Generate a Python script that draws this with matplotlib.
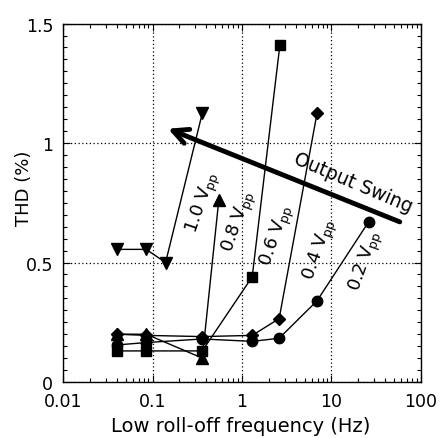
import numpy as np
import matplotlib
matplotlib.use("Agg")
import matplotlib.pyplot as plt
from matplotlib.ticker import FixedLocator, FixedFormatter, LogLocator, MultipleLocator, NullFormatter

# ---------------- Data ----------------
# 1.0 Vpp (triangle down)
f_10 = [0.04, 0.085, 0.14, 0.36]
thd_10 = [0.555, 0.555, 0.50, 1.125]

# 0.8 Vpp (triangle up)
f_08 = [0.04, 0.085, 0.36, 0.55]
thd_08 = [0.20, 0.20, 0.10, 0.76]

# 0.6 Vpp (square)
f_06 = [0.04, 0.085, 0.36, 1.3, 2.65]
thd_06 = [0.13, 0.13, 0.13, 0.44, 1.41]

# 0.4 Vpp (diamond)
f_04 = [0.04, 0.085, 0.36, 1.3, 2.6, 6.9]
thd_04 = [0.20, 0.195, 0.19, 0.195, 0.265, 1.125]

# 0.2 Vpp (circle)
f_02 = [0.04, 0.085, 0.36, 1.3, 2.6, 6.9, 26]
thd_02 = [0.155, 0.165, 0.18, 0.17, 0.183, 0.34, 0.67]

x_ticks = [0.01, 0.1, 1, 10, 100]
x_ticklabels = ["0.01", "0.1", "1", "10", "100"]
y_ticks = [0, 0.5, 1, 1.5]
y_ticklabels = ["0", "0.5", "1", "1.5"]

# ---------------- Figure ----------------
fig = plt.figure(figsize=(4.41, 4.39), dpi=100)
ax = fig.add_axes([0.1429, 0.1276, 0.8117, 0.8164])

ax.plot(f_10, thd_10, "k-", lw=1, marker="v", ms=8.5)
ax.plot(f_08, thd_08, "k-", lw=1, marker="^", ms=8.5)
ax.plot(f_06, thd_06, "k-", lw=1, marker="s", ms=6.5)
ax.plot(f_04, thd_04, "k-", lw=1, marker="D", ms=6)
ax.plot(f_02, thd_02, "k-", lw=1, marker="o", ms=7.5)

ax.set_xscale("log")
ax.set_xlim(0.01, 100)
ax.set_ylim(0, 1.5)

ax.xaxis.set_major_locator(FixedLocator(x_ticks))
ax.xaxis.set_major_formatter(FixedFormatter(x_ticklabels))
ax.xaxis.set_minor_locator(LogLocator(base=10, subs=np.arange(2, 10)))
ax.xaxis.set_minor_formatter(NullFormatter())
ax.yaxis.set_major_locator(FixedLocator(y_ticks))
ax.yaxis.set_major_formatter(FixedFormatter(y_ticklabels))
ax.yaxis.set_minor_locator(MultipleLocator(0.05))

ax.tick_params(which="both", direction="in", top=True, right=True, width=0.8)
ax.tick_params(which="major", length=5, labelsize=12.5)
ax.tick_params(which="minor", length=3)
ax.tick_params(axis="y", pad=7)
ax.tick_params(axis="x", pad=7)

# the reference sits the y labels a little high, so "0" clears "0.01"
for lbl in ax.get_yticklabels():
    lbl.set_verticalalignment("center_baseline")

ax.grid(which="major", color="k", lw=0.9, linestyle=(0, (1, 2)))
for s in ax.spines.values():
    s.set_linewidth(1)

ax.set_xlabel("Low roll-off frequency (Hz)", fontsize=14)
ax.set_ylabel("THD (%)", fontsize=13)
ax.xaxis.set_label_coords(0.497, -0.095)
ax.yaxis.set_label_coords(-0.085, 0.544)

# ---------------- Annotations ----------------
lab_kw = dict(fontsize=13, rotation=71, ha="center", va="center")
ax.text(0.37, 0.754, r"1.0 V$_{\mathrm{pp}}$", **lab_kw)
ax.text(0.925, 0.675, r"0.8 V$_{\mathrm{pp}}$", **lab_kw)
ax.text(2.46, 0.616, r"0.6 V$_{\mathrm{pp}}$", **lab_kw)
ax.text(7.44, 0.557, r"0.4 V$_{\mathrm{pp}}$", **lab_kw)
ax.text(24.3, 0.507, r"0.2 V$_{\mathrm{pp}}$", **lab_kw)

ax.text(17.4, 0.838, "Output Swing", fontsize=13.5, rotation=-23,
        ha="center", va="center")
ax.annotate("", xy=(0.149, 1.06), xytext=(58, 0.67),
            arrowprops=dict(arrowstyle="->, head_length=0.9, head_width=0.45",
                            lw=3.5, color="k", shrinkA=0, shrinkB=0,
                            mutation_scale=12))

fig.savefig("out.png", dpi=100)
